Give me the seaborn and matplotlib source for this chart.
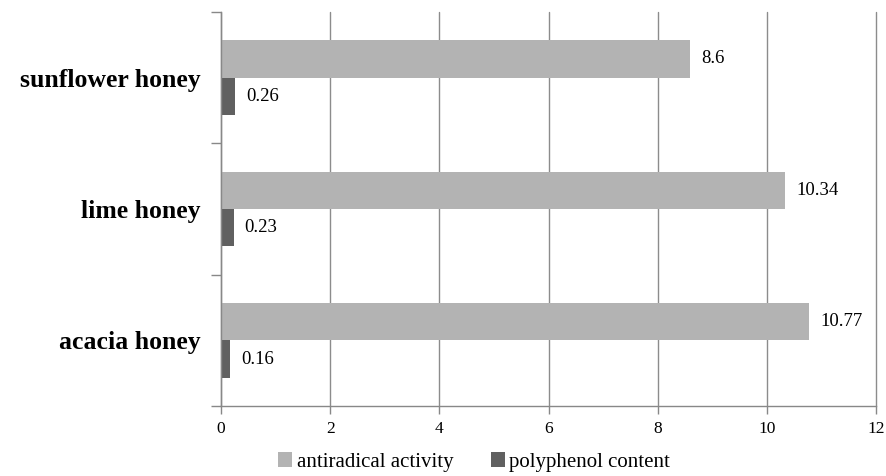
import matplotlib
matplotlib.use("Agg")
import matplotlib.pyplot as plt
import seaborn as sns
import pandas as pd

categories = ["sunflower honey", "lime honey", "acacia honey"]
antiradical = [8.6, 10.34, 10.77]
polyphenol = [0.26, 0.23, 0.16]
series_names = ["antiradical activity", "polyphenol content"]
x_ticks = [0, 2, 4, 6, 8, 10, 12]

df = pd.DataFrame({
    "honey": categories * 2,
    "value": antiradical + polyphenol,
    "series": [series_names[0]] * 3 + [series_names[1]] * 3,
})

sns.set_style("white")
plt.rcParams["font.family"] = ["Liberation Serif", "DejaVu Serif"]
plt.rcParams["text.color"] = "black"
plt.rcParams["xtick.labelcolor"] = "black"
plt.rcParams["ytick.labelcolor"] = "black"

fig = plt.figure(figsize=(8.86, 4.76), dpi=100)
ax = fig.add_axes([221 / 886, 1 - 406 / 476, (876 - 221) / 886, (406 - 12) / 476])

sns.barplot(data=df, y="honey", x="value", hue="series", order=categories,
            hue_order=series_names, palette=["#b3b3b3", "#606060"],
            orient="h", width=0.57, saturation=1, ax=ax, legend=True,
            linewidth=0, edgecolor="none")

for cont in ax.containers:
    labels = [f"{v:g}" for v in cont.datavalues]
    ax.bar_label(cont, labels=labels, padding=8, fontsize=13.5, color="black")

ax.set_xlim(0, 12)
ax.set_ylim(2.5, -0.5)
ax.set_xticks(x_ticks)
ax.set_xticklabels([str(t) for t in x_ticks], fontsize=12.5, color="black")
ax.set_yticks(range(len(categories)))
ax.set_yticklabels(categories, fontsize=18.5, fontweight="bold", color="black")
ax.set_yticks([-0.5, 0.5, 1.5, 2.5], minor=True)
ax.tick_params(axis="y", which="major", length=0, pad=15)
ax.tick_params(axis="y", which="minor", length=7, width=1, color="#888888", left=True)
ax.tick_params(axis="x", which="major", length=6, width=1, color="#888888", bottom=True, pad=5)
ax.set_xlabel("")
ax.set_ylabel("")
ax.grid(axis="x", color="#8c8c8c", linewidth=1)
for gl in ax.get_xgridlines():
    gl.set_clip_on(False)
ax.set_axisbelow(True)
for s in ["top", "right"]:
    ax.spines[s].set_visible(False)
for s in ["left", "bottom"]:
    ax.spines[s].set_color("#888888")
    ax.spines[s].set_linewidth(1)

handles, lbls = ax.get_legend_handles_labels()
ax.get_legend().remove()
leg = fig.legend(handles, lbls, loc="center", bbox_to_anchor=(474 / 886, 1 - 462 / 476),
                 ncol=2, frameon=False, fontsize=15, handlelength=0.7, handleheight=0.7,
                 handletextpad=0.2, columnspacing=1.8, borderpad=0)
for t in leg.get_texts():
    t.set_color("black")

fig.savefig("out.png", dpi=100)
